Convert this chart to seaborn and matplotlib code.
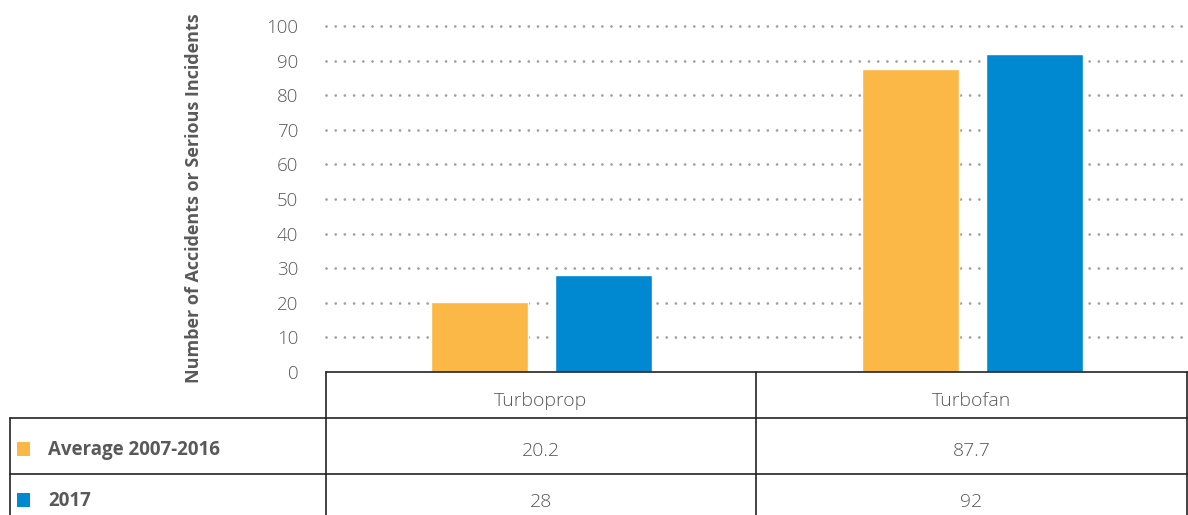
import matplotlib
matplotlib.use("Agg")
import matplotlib.pyplot as plt
from matplotlib.lines import Line2D
from matplotlib.patches import Rectangle
import seaborn as sns
import pandas as pd

categories = ["Turboprop", "Turbofan"]
series_names = ["Average 2007-2016", "2017"]
avg_values = [20.2, 87.7]
y2017_values = [28, 92]
table_avg = ["20.2", "87.7"]
table_2017 = ["28", "92"]
yticks = [0, 10, 20, 30, 40, 50, 60, 70, 80, 90, 100]
colors = ["#FBB846", "#0088D1"]

sns.set_theme(style="white")
plt.rcParams["font.family"] = ["Open Sans", "DejaVu Sans"]

W, H = 1188, 515
fig = plt.figure(figsize=(W / 100, H / 100), dpi=100)

def fx(px):
    return px / W

def fy(py):
    return 1 - py / H

ax_left, ax_right = 326, 1188
ax_top, ax_bottom = 26, 372
ax = fig.add_axes([fx(ax_left), fy(ax_bottom), fx(ax_right - ax_left), (ax_bottom - ax_top) / H])

df = pd.DataFrame({
    "category": categories * 2,
    "series": [series_names[0]] * 2 + [series_names[1]] * 2,
    "value": avg_values + y2017_values,
})
sns.barplot(data=df, x="category", y="value", hue="series", order=categories,
            hue_order=series_names, palette=colors, width=0.575, gap=0.218,
            ax=ax, legend=False, saturation=1, zorder=3)

ax.set_ylim(0, 100)
ax.set_xlim(-0.5, 1.5)
ax.set_yticks(yticks)
ax.set_yticklabels([str(t) for t in yticks], color="#595959", fontsize=13.5, fontweight="light")
ax.tick_params(axis="y", length=0, pad=20)
ax.set_xticks([])
ax.set_xlabel("")
ax.set_ylabel("Number of Accidents or Serious Incidents", fontsize=13, fontweight="bold",
              color="#595959")
ax.yaxis.set_label_coords(fx(203 - ax_left) / fx(ax_right - ax_left), 0.503)
for s in ax.spines.values():
    s.set_visible(False)
for t in yticks[1:]:
    ax.axhline(t, color="#A0A0A0", linewidth=2.0, linestyle=(0, (0.01, 3.3)),
               dash_capstyle="round", zorder=1, clip_on=False)

# Data table
lc = "#222222"
lw = 1.2
col_x = [326, 756, 1187]
row_y = [372, 418, 474, 515]
left_x = 10
fig.add_artist(Line2D([fx(326), fx(1188)], [fy(372), fy(372)], color=lc, lw=lw))
for ry in row_y[1:3]:
    fig.add_artist(Line2D([fx(left_x), fx(1188)], [fy(ry), fy(ry)], color=lc, lw=lw))
for cx in col_x:
    fig.add_artist(Line2D([fx(cx), fx(cx)], [fy(372), fy(515)], color=lc, lw=lw))
fig.add_artist(Line2D([fx(left_x), fx(left_x)], [fy(418), fy(515)], color=lc, lw=lw))

for i, cat in enumerate(categories):
    cxm = (col_x[i] + col_x[i + 1]) / 2
    fig.text(fx(cxm), fy(401), cat, ha="center", va="center", fontsize=14,
             color="#595959", fontweight="light")
    fig.text(fx(cxm), fy(451), table_avg[i], ha="center", va="center", fontsize=14,
             color="#595959", fontweight="light")
    fig.text(fx(cxm), fy(502), table_2017[i], ha="center", va="center", fontsize=14,
             color="#595959", fontweight="light")

row_centers = [449, 500]
for j, name in enumerate(series_names):
    fig.add_artist(Rectangle((fx(17), fy(row_centers[j] + 7)), fx(13), 14 / H,
                             facecolor=colors[j], edgecolor="none"))
    fig.text(fx(48), fy(row_centers[j] + 1), name, ha="left", va="center", fontsize=13.5,
             fontweight="bold", color="#595959")

fig.savefig("out.png", dpi=100)
